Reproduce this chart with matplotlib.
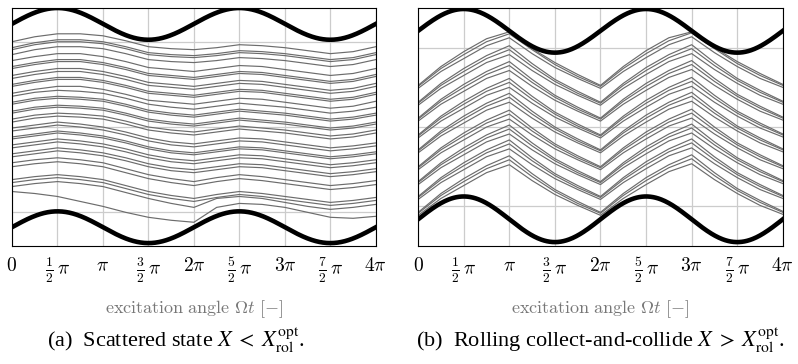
import numpy as np
import matplotlib
matplotlib.use('Agg')
import matplotlib.pyplot as plt

plt.rcParams['mathtext.fontset'] = 'cm'

# excitation angle, sampled every pi/4 from 0 to 4pi
phase = np.linspace(0, 4 * np.pi, 17)
tick_pos = np.linspace(0, 4 * np.pi, 9)
tick_labels = ['$0$', r'$\frac{1}{2}\,\pi$', r'$\pi$', r'$\frac{3}{2}\,\pi$', r'$2\pi$',
               r'$\frac{5}{2}\,\pi$', r'$3\pi$', r'$\frac{7}{2}\,\pi$', r'$4\pi$']

# container walls (mean position, amplitude) for top and bottom wall
walls_a = [(104, 16), (-101, 16)]
walls_b = [(97, 22), (-93, 23)]

# particle trajectories, panel (a): scattered state
scattered = [
    [86, 91, 94, 94, 92, 87, 81, 79, 78, 80, 83, 82, 80, 77, 74, 76, 81],
    [80, 85, 88, 88, 86, 81, 75, 73, 72, 74, 77, 76, 74, 71, 68, 70, 75],
    [78, 83, 86, 86, 84, 79, 73, 71, 70, 72, 75, 74, 72, 69, 66, 68, 73],
    [73, 78, 81, 81, 79, 74, 68, 66, 65, 67, 70, 69, 67, 64, 61, 63, 68],
    [67, 71, 74, 74, 71, 66, 60, 58, 56, 59, 62, 61, 58, 55, 52, 54, 59],
    [61, 65, 68, 68, 65, 60, 54, 52, 50, 53, 56, 55, 52, 49, 46, 48, 53],
    [59, 63, 66, 66, 63, 58, 52, 50, 48, 51, 54, 53, 50, 47, 44, 46, 51],
    [52, 56, 59, 59, 56, 51, 45, 43, 41, 44, 47, 46, 43, 40, 37, 39, 44],
    [49, 53, 56, 56, 53, 48, 42, 40, 38, 41, 44, 43, 40, 37, 34, 36, 41],
    [43, 47, 50, 50, 47, 42, 36, 34, 32, 35, 38, 37, 34, 31, 28, 30, 35],
    [41, 45, 48, 48, 45, 40, 34, 32, 30, 33, 36, 35, 32, 29, 26, 28, 33],
    [34, 38, 41, 41, 38, 33, 27, 25, 23, 26, 29, 28, 25, 22, 19, 21, 26],
    [31, 35, 37, 36, 34, 29, 23, 20, 18, 21, 24, 22, 20, 17, 14, 16, 20],
    [25, 29, 31, 30, 28, 23, 17, 14, 12, 15, 18, 16, 14, 11, 8, 10, 14],
    [23, 27, 29, 28, 26, 21, 15, 12, 10, 13, 16, 14, 12, 9, 6, 8, 12],
    [16, 20, 22, 21, 19, 14, 8, 5, 3, 6, 9, 7, 5, 2, -1, 1, 5],
    [14, 18, 20, 19, 17, 12, 6, 3, 1, 4, 7, 5, 3, 0, -3, -1, 3],
    [8, 12, 14, 13, 11, 6, 0, -3, -5, -2, 1, -1, -3, -6, -9, -7, -3],
    [5, 9, 11, 10, 8, 3, -3, -6, -8, -5, -2, -4, -6, -9, -12, -10, -6],
    [-1, 2, 5, 3, 0, -5, -11, -15, -17, -14, -11, -12, -15, -18, -21, -19, -16],
    [-4, -1, 2, 0, -3, -8, -14, -18, -20, -17, -14, -15, -18, -21, -24, -22, -19],
    [-10, -7, -4, -6, -9, -14, -20, -24, -26, -23, -20, -21, -24, -27, -30, -28, -25],
    [-12, -9, -6, -8, -11, -16, -22, -26, -28, -25, -22, -23, -26, -29, -32, -30, -27],
    [-18, -15, -12, -14, -17, -22, -28, -32, -34, -31, -28, -29, -32, -35, -38, -36, -33],
    [-21, -18, -15, -17, -20, -25, -31, -35, -37, -34, -31, -32, -35, -38, -41, -39, -36],
    [-27, -24, -21, -23, -26, -31, -37, -41, -43, -40, -37, -38, -41, -44, -47, -45, -42],
    [-30, -27, -24, -26, -29, -34, -40, -44, -46, -43, -40, -41, -44, -47, -50, -48, -45],
    [-36, -33, -31, -33, -36, -42, -48, -52, -55, -51, -48, -50, -53, -56, -59, -57, -54],
    [-40, -37, -35, -37, -40, -46, -52, -56, -59, -55, -52, -54, -57, -60, -63, -61, -58],
    [-53, -50, -48, -50, -53, -59, -65, -69, -72, -68, -65, -67, -70, -73, -76, -74, -71],
    [-56, -53, -51, -53, -56, -62, -68, -72, -75, -71, -68, -70, -73, -76, -79, -77, -74],
    [-60, -57, -55, -57, -60, -66, -72, -77, -81, -72, -70, -72, -76, -80, -83, -81, -78],
    [-65, -67, -70, -75, -80, -86, -91, -94, -96, -81, -77, -78, -81, -86, -91, -92, -90],
]

# particle trajectories, panel (b): rolling collect-and-collide
rolling = [
    [42, 61, 76, 89, 96, 79, 65, 53, 42, 61, 77, 90, 96, 80, 66, 54, 43],
    [41, 59, 73, 86, 94, 78, 63, 51, 41, 59, 74, 87, 95, 79, 64, 52, 42],
    [39, 56, 69, 82, 90, 74, 60, 49, 39, 56, 70, 83, 91, 75, 61, 49, 40],
    [25, 44, 59, 72, 82, 64, 48, 36, 25, 44, 60, 73, 83, 65, 49, 37, 26],
    [24, 42, 56, 69, 78, 61, 46, 34, 24, 42, 57, 70, 79, 62, 47, 35, 25],
    [22, 39, 52, 65, 73, 57, 43, 32, 22, 39, 53, 66, 74, 58, 44, 32, 23],
    [9, 28, 43, 56, 66, 48, 32, 20, 9, 28, 44, 57, 67, 49, 33, 21, 10],
    [8, 26, 40, 53, 62, 45, 30, 18, 8, 26, 41, 54, 63, 46, 31, 19, 9],
    [6, 23, 36, 49, 57, 41, 27, 16, 6, 23, 37, 50, 58, 42, 28, 16, 7],
    [-8, 11, 26, 39, 49, 31, 15, 3, -8, 11, 27, 40, 50, 32, 16, 4, -7],
    [-9, 9, 23, 36, 45, 28, 13, 1, -9, 9, 24, 37, 46, 29, 14, 2, -8],
    [-11, 6, 19, 32, 40, 24, 10, -1, -11, 6, 20, 33, 41, 25, 11, -1, -10],
    [-23, -4, 11, 24, 34, 16, 0, -12, -23, -4, 12, 25, 35, 17, 1, -11, -22],
    [-24, -6, 8, 21, 30, 13, -2, -14, -24, -6, 9, 22, 31, 14, -1, -13, -23],
    [-26, -9, 4, 17, 25, 9, -5, -16, -26, -9, 5, 18, 26, 10, -4, -16, -25],
    [-40, -21, -6, 7, 17, -1, -17, -29, -40, -21, -5, 8, 18, 0, -16, -28, -39],
    [-41, -23, -9, 4, 13, -4, -19, -31, -41, -23, -8, 5, 14, -3, -18, -30, -40],
    [-43, -26, -13, 0, 8, -8, -22, -33, -43, -26, -12, 1, 9, -7, -21, -33, -42],
    [-55, -36, -21, -8, 2, -16, -32, -44, -55, -36, -20, -7, 3, -15, -31, -43, -54],
    [-56, -38, -24, -11, -2, -19, -34, -46, -56, -38, -23, -10, -1, -18, -33, -45, -55],
    [-58, -41, -28, -15, -7, -23, -37, -48, -58, -41, -27, -14, -6, -22, -36, -48, -57],
    [-70, -51, -36, -23, -13, -31, -47, -59, -70, -51, -35, -22, -12, -30, -46, -58, -69],
    [-71, -53, -39, -26, -17, -34, -49, -61, -71, -53, -38, -25, -16, -33, -48, -60, -70],
    [-73, -56, -43, -30, -22, -38, -52, -63, -73, -56, -42, -29, -21, -37, -51, -63, -72],
    [-86, -67, -52, -39, -29, -47, -63, -75, -86, -67, -51, -38, -28, -46, -62, -74, -85],
    [-87, -69, -55, -42, -33, -50, -65, -77, -87, -69, -54, -41, -32, -49, -64, -76, -86],
    [-89, -72, -59, -46, -38, -54, -68, -79, -89, -72, -58, -45, -37, -53, -67, -79, -88],
]

captions = [r'(a)  Scattered state $X\;<\;X_{\mathrm{rol}}^{\mathrm{opt}}$.',
            r'(b)  Rolling collect-and-collide $X\;>\;X_{\mathrm{rol}}^{\mathrm{opt}}$.']

fig = plt.figure(figsize=(7.98, 3.64), dpi=100)
ax_a = fig.add_axes([0.015, 0.324, 0.456, 0.654])
ax_b = fig.add_axes([0.524, 0.324, 0.457, 0.654])

x_wall = np.linspace(0, 4 * np.pi, 400)

for ax, lines, walls, grid_y in [(ax_a, scattered, walls_a, 86), (ax_b, rolling, walls_b, 80)]:
    for y in lines:
        ax.plot(phase, y, color='#6c6c6c', lw=0.85, zorder=2)
    for mean, amp in walls:
        ax.plot(x_wall, mean + amp * np.sin(x_wall), color='black', lw=3.3, zorder=3)
    ax.set_xlim(0, 4 * np.pi)
    ax.set_ylim(-120, 120)
    ax.set_xticks(tick_pos)
    ax.set_xticklabels(tick_labels, fontsize=14)
    ax.set_yticks([-grid_y, 0, grid_y])
    ax.set_yticklabels([])
    ax.tick_params(length=0, pad=7)
    ax.grid(True, color='#cccccc', lw=0.9, zorder=0)
    ax.set_axisbelow(True)
    for s in ax.spines.values():
        s.set_linewidth(0.8)
    ax.set_xlabel(r'$\mathrm{excitation\ angle}\ \mathit{\Omega t}\ [-]$',
                  fontsize=13, color='#777777', labelpad=9)

fig.text(0.221, 0.066, captions[0], ha='center', va='center', fontsize=16,
         family='Liberation Serif', math_fontfamily='stix')
fig.text(0.753, 0.066, captions[1], ha='center', va='center', fontsize=16,
         family='Liberation Serif', math_fontfamily='stix')

fig.savefig('out.png', dpi=100)
